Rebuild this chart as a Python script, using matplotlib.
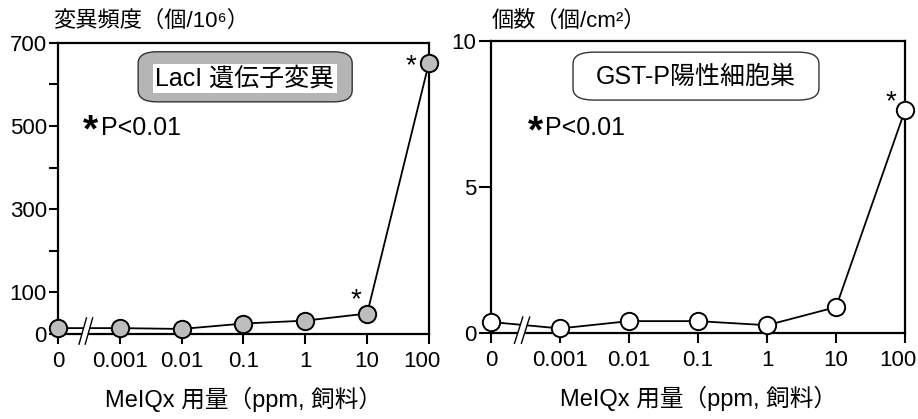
import matplotlib
matplotlib.use("Agg")
import matplotlib.pyplot as plt
import matplotlib.transforms as mtransforms
from matplotlib.patches import FancyBboxPatch, Polygon

plt.rcParams['font.family'] = ['Liberation Sans', 'Noto Sans CJK JP', 'DejaVu Sans']

# MeIQx dose groups (ppm in diet), drawn on an evenly spaced categorical axis
doses = ["0", "0.001", "0.01", "0.1", "1", "10", "100"]
pos = list(range(len(doses)))

# LacI mutation frequency (per 10^6)
lacI_freq = [14, 14, 12, 25, 32, 49, 652]
lacI_ticks = [0, 100, 200, 300, 400, 500, 600, 700]
lacI_ticklabels = ["0", "100", "", "300", "", "500", "", "700"]

# GST-P positive foci (per cm^2)
gstp_foci = [0.38, 0.16, 0.41, 0.41, 0.27, 0.89, 7.64]
gstp_ticks = [0, 5, 10]

fig = plt.figure(figsize=(9.18, 4.19), dpi=100)
ax1 = fig.add_axes([0.0632, 0.203, 0.4041, 0.695])
ax2 = fig.add_axes([0.5349, 0.205, 0.451, 0.697])


def style_axis(ax, ymax, ticks, labels, ylen):
    ax.set_xlim(0, 6)
    ax.set_ylim(0, ymax)
    ax.set_xticks(pos)
    ax.set_xticklabels(doses)
    ax.set_yticks(ticks)
    ax.set_yticklabels(labels)
    for s in ax.spines.values():
        s.set_linewidth(1.6)
    ax.tick_params(axis='x', length=7, width=1.5, pad=5, labelsize=16)
    ax.tick_params(axis='y', length=ylen, width=1.5, pad=1.5, labelsize=16)
    ax.set_xlabel("MeIQx 用量（ppm, 飼料）", fontsize=17, labelpad=11)
    # last dose label sits a little inside the right edge
    last = ax.get_xticklabels()[-1]
    last.set_transform(last.get_transform() +
                       mtransforms.ScaledTranslation(-7 / 100, 0, fig.dpi_scale_trans))


def axis_break(ax, xc):
    # "//" mark across the bottom spine and the data line
    trans = ax.get_xaxis_transform()
    dx, h = 0.06, 0.035
    white = Polygon([[xc - dx - 0.05, -h], [xc + 0.05 - dx, -h],
                     [xc + dx + 0.05, h + 0.02], [xc + dx - 0.05, h + 0.02]],
                    closed=True, transform=trans, facecolor='white',
                    edgecolor='none', clip_on=False, zorder=4)
    ax.add_patch(white)
    for off in (-0.05, 0.05):
        ax.plot([xc + off - dx, xc + off + dx], [-h, h + 0.02], color='black',
                lw=1.0, transform=trans, clip_on=False, zorder=5)


def p_note(ax, xs, xp, y):
    # bold star followed by the significance level
    ax.text(xs, y - 0.014, "*", transform=ax.transAxes, fontsize=28,
            fontweight='bold', ha='left', va='center')
    ax.text(xp, y, "P<0.01", transform=ax.transAxes, fontsize=18,
            ha='left', va='center')


# left panel: LacI mutation
style_axis(ax1, 700, lacI_ticks, lacI_ticklabels, 6.5)
ax1.plot(pos, lacI_freq, color='black', lw=1.3, marker='o', markersize=12.5,
         markerfacecolor='#bdbdbd', markeredgecolor='black', markeredgewidth=1.4,
         clip_on=False, zorder=3)
axis_break(ax1, 0.45)
ax1.annotate("*", (pos[5], lacI_freq[5]), xytext=(-8, 0), textcoords='offset points',
             ha='center', va='bottom', fontsize=20)
ax1.annotate("*", (pos[6], lacI_freq[6]), xytext=(-13, -12), textcoords='offset points',
             ha='center', va='bottom', fontsize=20)
p_note(ax1, 0.068, 0.116, 0.708)
ax1.add_patch(FancyBboxPatch((0.216, 0.797), 0.577, 0.172,
                             boxstyle="round,pad=0,rounding_size=0.05",
                             transform=ax1.transAxes, facecolor='#b5b5b5',
                             edgecolor='#333333', lw=1.0, mutation_aspect=0.8))
ax1.text(0.504, 0.876, "LacI 遺伝子変異", transform=ax1.transAxes, fontsize=18,
         ha='center', va='center',
         bbox=dict(boxstyle='square,pad=0.1', facecolor='white', edgecolor='none'))
fig.text(0.058, 0.950, "変異頻度（個/10⁶）", fontsize=16, ha='left', va='center')

# right panel: GST-P positive foci
style_axis(ax2, 10, gstp_ticks, [str(t) for t in gstp_ticks], 9)
ax2.plot(pos, gstp_foci, color='black', lw=1.3, marker='o', markersize=12.5,
         markerfacecolor='white', markeredgecolor='black', markeredgewidth=1.4,
         clip_on=False, zorder=3)
axis_break(ax2, 0.45)
ax2.annotate("*", (pos[6], gstp_foci[6]), xytext=(-10, -4), textcoords='offset points',
             ha='center', va='bottom', fontsize=20)
p_note(ax2, 0.089, 0.131, 0.702)
ax2.add_patch(FancyBboxPatch((0.198, 0.798), 0.594, 0.164,
                             boxstyle="round,pad=0,rounding_size=0.05",
                             transform=ax2.transAxes, facecolor='white',
                             edgecolor='#333333', lw=1.0, mutation_aspect=0.8))
ax2.text(0.495, 0.877, "GST-P陽性細胞巣", transform=ax2.transAxes, fontsize=18,
         ha='center', va='center')
fig.text(0.536, 0.950, "個数（個/cm²）", fontsize=16, ha='left', va='center')

fig.savefig("out.png", dpi=100)
